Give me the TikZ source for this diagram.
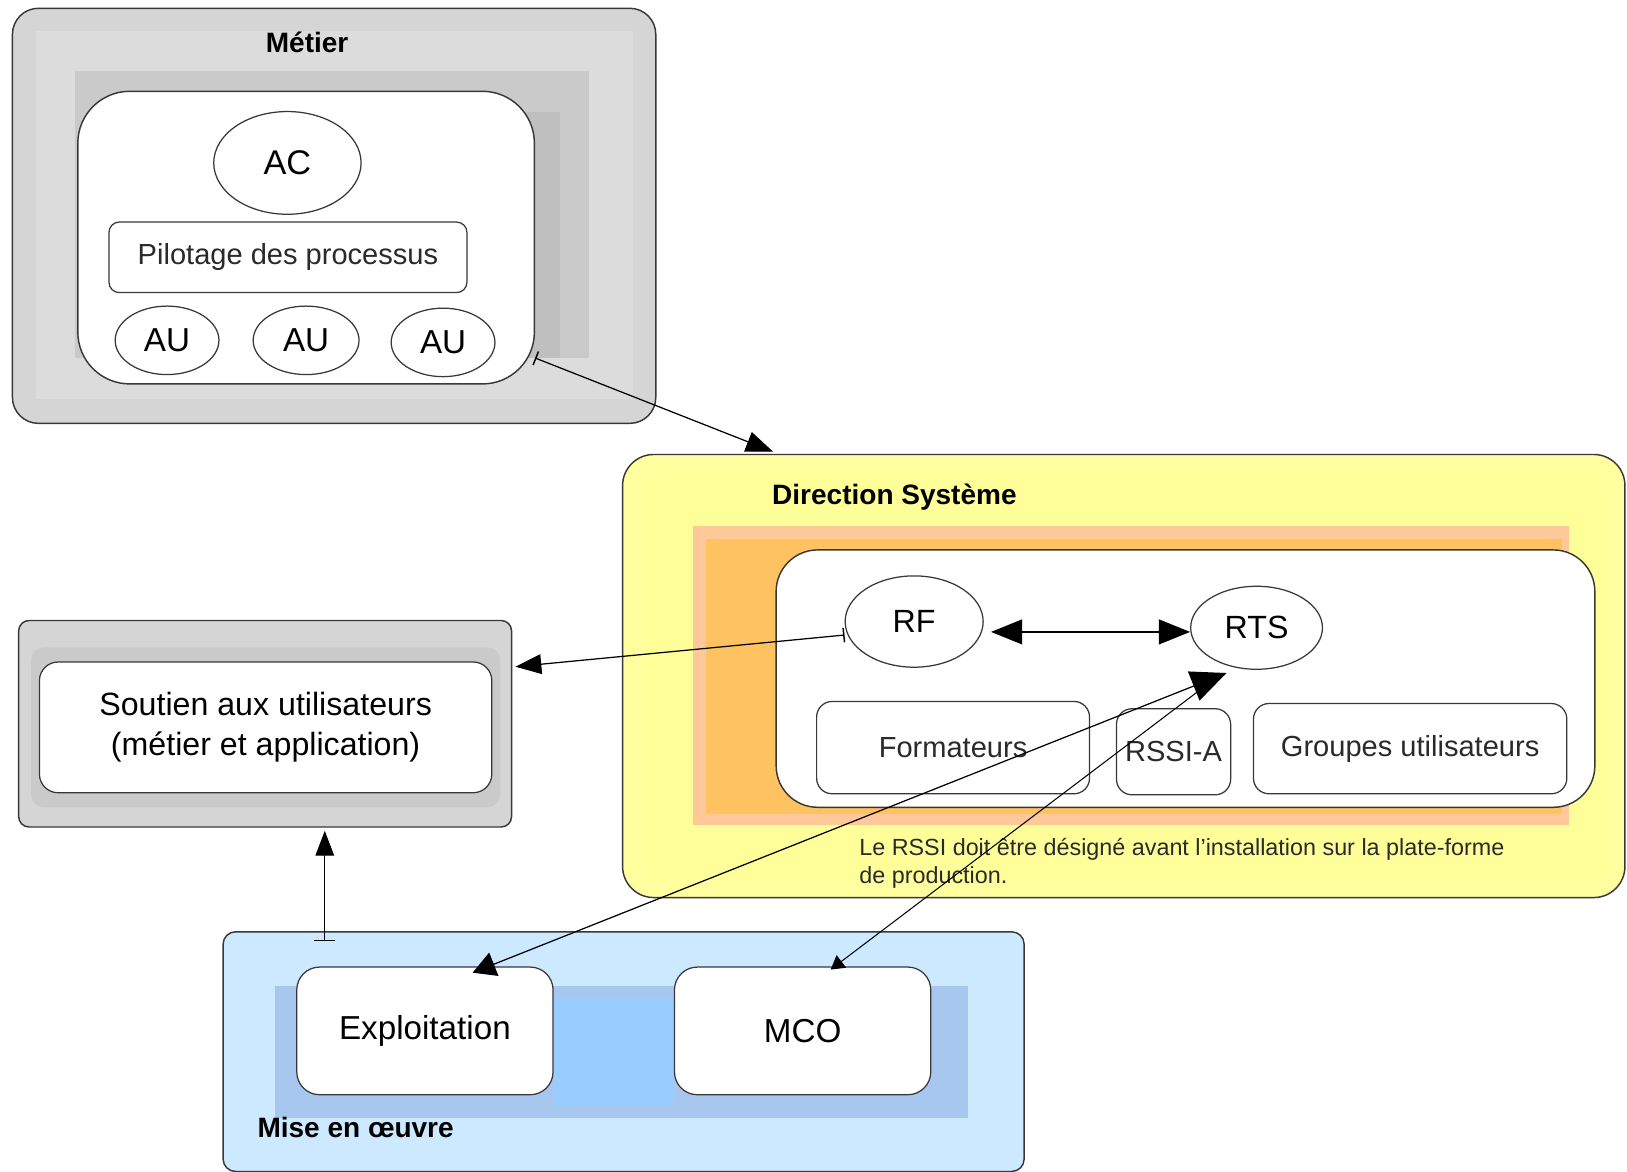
\documentclass[tikz,border=0pt]{standalone}
\usepackage{fontspec}
\setmainfont{Liberation Sans}
\usetikzlibrary{shapes.geometric,arrows.meta}
\definecolor{bordc}{HTML}{383838}
\definecolor{txtg}{HTML}{2A2A2A}
\definecolor{grayA}{HTML}{D5D5D5}
\definecolor{grayB}{HTML}{DCDCDC}
\definecolor{grayC}{HTML}{CACACA}
\definecolor{grayD}{HTML}{BFBFBF}
\definecolor{yelA}{HTML}{FFFFA0}
\definecolor{yelB}{HTML}{FFFF9A}
\definecolor{salm}{HTML}{FFC898}
\definecolor{oran}{HTML}{FFC260}
\definecolor{bluA}{HTML}{CDE9FF}
\definecolor{bluB}{HTML}{A7C7EE}
\definecolor{bluC}{HTML}{99CCFF}
\tikzset{
  frame/.style={draw=bordc, line width=1.4pt, rectangle, inner sep=0pt},
  whitebox/.style={frame, fill=white},
  oval/.style={draw=bordc, line width=1.2pt, ellipse, fill=white, inner sep=0pt},
  title/.style={font=\bfseries\fontsize{27}{32}\selectfont, inner sep=0pt},
  bigtxt/.style={font=\fontsize{32}{38}\selectfont, text=black},
  midtxt/.style={font=\fontsize{28}{33}\selectfont, text=txtg},
  conn/.style={line width=1.2pt, draw=black},
}
\begin{document}
\begin{tikzpicture}[x=1pt,y=-1pt]
\useasboundingbox (0,0) rectangle (1568,1129);
\fill[white] (0,0) rectangle (1568,1129);

% ---------------- Metier ----------------
\node[frame, fill=grayA, rounded corners=25pt, minimum width=620pt, minimum height=400pt] (metier) at (322,208) {};
\fill[grayB] (35,30) rectangle (610,385);
\fill[grayC] (72,68) rectangle (568,345);
\fill[grayD] (505,108) rectangle (540,345);
\node[title] (metiertitle) at (296,41) {Métier};
\node[whitebox, rounded corners=50pt, minimum width=440pt, minimum height=282pt] (metierin) at (295,229) {};
\node[oval, minimum width=142pt, minimum height=99pt, font=\fontsize{33}{38}\selectfont] (ac) at (277,157) {AC};
\node[whitebox, line width=1.2pt, rounded corners=10pt, minimum width=345pt, minimum height=68pt, midtxt] (pilot) at (277.5,248) {Pilotage des processus};
\node[oval, minimum width=100pt, minimum height=66pt, font=\fontsize{32}{38}\selectfont] (au1) at (161,328) {AU};
\node[oval, minimum width=102pt, minimum height=66pt, font=\fontsize{32}{38}\selectfont] (au2) at (295,328) {AU};
\node[oval, minimum width=100pt, minimum height=66pt, font=\fontsize{32}{38}\selectfont] (au3) at (427,330) {AU};

% ---------------- Direction Systeme ----------------
\node[frame, fill=yelA, rounded corners=30pt, minimum width=966pt, minimum height=427pt] (dirbox) at (1083,651.5) {};
\fill[yelB, rounded corners=20pt] (618,456) rectangle (1550,848);
\fill[salm] (668,507) rectangle (1512,795);
\fill[oran] (680,519) rectangle (1505,784);
\node[title, anchor=west] (dirtitle) at (744,479) {Direction Système};
\node[whitebox, rounded corners=40pt, minimum width=789pt, minimum height=248pt] (dirin) at (1142.5,654) {};
\node[oval, minimum width=133pt, minimum height=88pt, font=\fontsize{31}{36}\selectfont] (rf) at (881,599) {RF};
\node[oval, minimum width=127pt, minimum height=80pt, font=\fontsize{31}{36}\selectfont] (rts) at (1211,605) {RTS};
\node[whitebox, line width=1.2pt, rounded corners=15pt, minimum width=263pt, minimum height=89pt, midtxt] (form) at (918.5,720.5) {Formateurs};
\node[whitebox, line width=1.2pt, rounded corners=15pt, minimum width=110pt, minimum height=83pt, midtxt] (rssi) at (1131,724.5) {RSSI-A};
\node[whitebox, line width=1.2pt, rounded corners=15pt, minimum width=302pt, minimum height=87pt, midtxt] (groupes) at (1359,721.5) {Groupes utilisateurs};
\node[anchor=north west, align=left, inner sep=0pt, text=txtg, font=\fontsize{22.5}{27}\selectfont] (note) at (828,808) {Le RSSI doit être désigné avant l'installation sur la plate-forme\\de production.};

% ---------------- Soutien ----------------
\node[frame, fill=grayA, rounded corners=10pt, minimum width=475pt, minimum height=199pt] (soutien) at (255.5,697.5) {};
\fill[grayC, rounded corners=12pt] (30,624) rectangle (482,778);
\node[whitebox, line width=1.2pt, rounded corners=18pt, minimum width=436pt, minimum height=126pt, align=center, font=\fontsize{31}{38}\selectfont] (soutienin) at (256,701) {Soutien aux utilisateurs\\(métier et application)};

% ---------------- Mise en oeuvre ----------------
\node[frame, fill=bluA, rounded corners=12pt, minimum width=772pt, minimum height=231pt] (mise) at (601,1013.5) {};
\fill[bluB] (265,950) rectangle (933,1077);
\fill[bluC] (533,962) rectangle (650,1065);
\node[whitebox, line width=1.2pt, rounded corners=22pt, minimum width=247pt, minimum height=123pt, bigtxt] (exploit) at (409.5,993.5) {Exploitation};
\node[whitebox, line width=1.2pt, rounded corners=22pt, minimum width=247pt, minimum height=123pt, bigtxt] (mco) at (773.5,993.5) {MCO};
\node[title, anchor=west] (misetitle) at (248,1087) {Mise en œuvre};

% ---------------- Connectors ----------------
\draw[conn, {Bar[width=14pt,line width=1.4pt]}-{Triangle[length=26pt,width=20pt]}]
  ([yshift=-116pt]metierin.east) -- ([xshift=-338pt,yshift=2pt]dirbox.north);
\draw[conn, {Bar[width=14pt,line width=1.4pt]}-{Triangle[length=25pt,width=19pt]}]
  ([yshift=-13pt]rf.west) -- ([xshift=3pt,yshift=55pt]soutien.east);
\draw[conn, {Bar[width=20pt,line width=1.4pt]}-{Triangle[length=24pt,width=18pt]}]
  ([xshift=-288pt,yshift=-10pt]mise.north) -- ([xshift=57.5pt,yshift=-3pt]soutien.south);
\draw[conn, {Triangle[length=30pt,width=24pt]}-{Triangle[length=30pt,width=24pt]}]
  ([xshift=7pt,yshift=-10pt]rf.east) -- ([yshift=-4pt]rts.west);
\draw[conn, {Triangle[length=22pt,width=24pt]}-{Triangle[length=34pt,width=30pt]}]
  ([xshift=46pt,yshift=-6pt]exploit.north) -- ([xshift=-29pt,yshift=-3pt]rts.south);
\draw[conn, line width=1pt, {Triangle[length=13pt,width=15pt]}-]
  ([xshift=27pt,yshift=-3pt]mco.north) -- ([xshift=-33pt,yshift=-3pt]rts.south);
\end{tikzpicture}
\end{document}
